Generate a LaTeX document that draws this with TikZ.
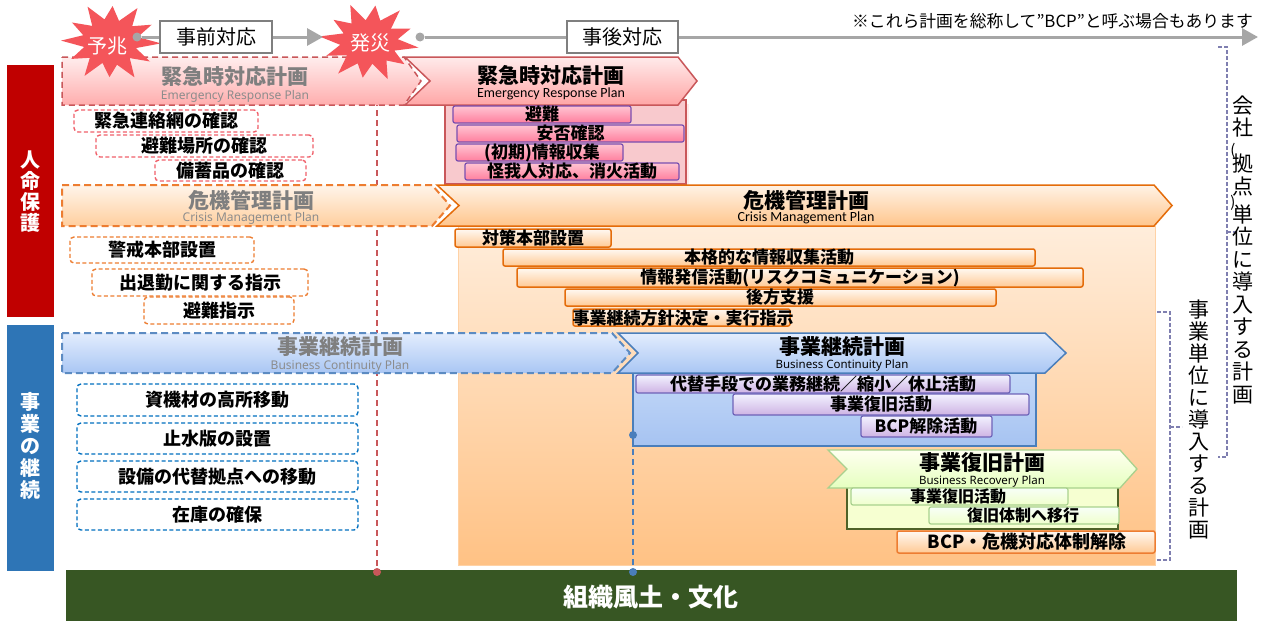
\documentclass[tikz,border=0pt]{standalone}
\usepackage{fontspec}
\setmainfont{Noto Sans CJK JP}
\newfontfamily\calfont{Carlito}
\newfontfamily\nsfont{Noto Sans}
\usetikzlibrary{arrows.meta}
\newcommand\fsz[1]{\fontsize{#1pt}{#1pt}\selectfont}
\newcommand\lparen[1]{\hspace*{-20pt}{\fsz{15}#1}}
\definecolor{tlgrey}{HTML}{A6A6A6}
\definecolor{boxgrey}{HTML}{7F7F7F}
\definecolor{burstred}{HTML}{F4555A}
\definecolor{lifered}{HTML}{C00000}
\definecolor{bizblue}{HTML}{2E75B6}
\definecolor{basegreen}{HTML}{375623}
\definecolor{erpline}{HTML}{C9575A}
\definecolor{ghostgrey}{HTML}{7F7F7F}
\definecolor{ghostsub}{HTML}{8C8C8C}
\definecolor{orline}{HTML}{E46C0A}
\definecolor{blline}{HTML}{4A7EBB}
\definecolor{lavline}{HTML}{6E63B8}
\definecolor{pinkbarline}{HTML}{7A4FB0}
\definecolor{grline}{HTML}{A9D18E}
\definecolor{grdark}{HTML}{4F6228}
\definecolor{brkt}{HTML}{7F7FB0}
\definecolor{rdash}{HTML}{F0606A}
\definecolor{odash}{HTML}{ED7D31}
\definecolor{bdash}{HTML}{0070C0}
\definecolor{bltop}{HTML}{E3EDFD}
\definecolor{blbot}{HTML}{A9C6F4}
\definecolor{pbtop}{HTML}{C3D8F8}
\definecolor{pbbot}{HTML}{A6C3F1}
\definecolor{pinktop}{HTML}{FFC4D2}
\definecolor{pinkbot}{HTML}{FF7F9E}
\definecolor{erppanel}{HTML}{F8C9CD}
\begin{document}
\begin{tikzpicture}[x=1pt,y=-1pt,
  tl/.style={draw=tlgrey, line width=3pt},
  tlarrow/.style={tl, -{Triangle[length=16pt,width=17pt]}},
  tlbox/.style={draw=boxgrey, line width=2.5pt, fill=white, minimum height=32pt, inner sep=0, font=\fsz{20}},
  tdot/.style={circle, fill=tlgrey, minimum size=9pt, inner sep=0},
  bursttxt/.style={text=white, font=\fsz{20}, inner sep=0},
  vlabel/.style={text=white, align=center, font=\fsz{20}\bfseries, inner sep=0},
  rlabel/.style={text=black, align=center, inner sep=0},
  ghostR/.style={draw=erpline, line width=1.5pt, dash pattern=on 6pt off 4pt, top color=red!7, bottom color=red!32},
  ghostO/.style={draw=odash, line width=2pt, dash pattern=on 7pt off 4pt, top color=orange!8, bottom color=orange!38},
  ghostB/.style={draw=blline!90, line width=2pt, dash pattern=on 7pt off 4pt, top color=bltop, bottom color=blbot},
  solidR/.style={draw=erpline, line width=1.5pt, top color=red!8, bottom color=red!35},
  solidO/.style={draw=orline, line width=1.5pt, top color=orange!10, bottom color=orange!45},
  solidB/.style={draw=blline, line width=1.5pt, top color=bltop, bottom color=blbot},
  solidG/.style={draw=grline, line width=1.3pt, top color=green!4!yellow!6, bottom color=green!40!yellow!25},
  gtitle/.style={font=\fsz{21}\bfseries, text=ghostgrey, inner sep=0},
  gsub/.style={font=\nsfont\fsz{12}, text=ghostsub, inner sep=0},
  stitle/.style={font=\fsz{21}\bfseries, inner sep=0},
  ssub/.style={font=\calfont\fsz{14}, inner sep=0},
  nsub/.style={font=\nsfont\fsz{11.5}, inner sep=0},
  pinkbar/.style={draw=pinkbarline, line width=1.2pt, rounded corners=2pt, top color=pinktop, bottom color=pinkbot},
  orbar/.style={draw=orline, line width=1.5pt, rounded corners=2pt, top color=orange!5, bottom color=orange!42},
  lavbar/.style={draw=lavline, line width=1.2pt, rounded corners=2pt, top color=blue!5, bottom color=blue!28!violet!30!white},
  grbar/.style={draw=grline, line width=1.2pt, rounded corners=2pt, top color=green!3!white, bottom color=green!30!yellow!20},
  bartxt/.style={font=\fsz{17}\bfseries, inner sep=0},
  dbox/.style={fill=white, line width=1.4pt, dash pattern=on 4pt off 2.5pt, rounded corners=4pt, inner sep=0, font=\fsz{18}\bfseries},
  rbox/.style={dbox, draw=rdash},
  obox/.style={dbox, draw=odash},
  bbox/.style={dbox, draw=bdash},
  rdot/.style={circle, fill=erpline, minimum size=8pt, inner sep=0},
  bdot/.style={circle, fill=blline, minimum size=8pt, inner sep=0},
  brk/.style={draw=brkt, line width=1.2pt, dash pattern=on 4pt off 2pt}
]
\useasboundingbox (0,0) rectangle (1262,621);
\fill[white] (0,0) rectangle (1262,621);

% left category bars
\fill[lifered] (7,65) rectangle (54,317);
\fill[bizblue] (7,325) rectangle (54,571);
\node[vlabel, font=\fontsize{20pt}{21pt}\selectfont\bfseries] (life) at (30,192) {人\\命\\保\\護};
\node[vlabel, font=\fontsize{20pt}{22pt}\selectfont\bfseries] (biz) at (30,446) {事\\業\\の\\継\\続};

% base bar
\fill[basegreen] (66,570) rectangle (1237,621);
\node[text=white, font=\fsz{25}\bfseries, inner sep=0] (culture) at (651,597) {組織風土・文化};

% big orange panel
\shade[top color=orange!14, bottom color=orange!48, draw=orange!35, line width=0.8pt] (458,226) rectangle (1155,565);

% red dashed vertical line
\coordinate (rtop) at (377,100);
\node[rdot] (rbot) at (377,572) {};
\draw[erpline, line width=1.5pt, dash pattern=on 6pt off 4pt] (rtop) -- (rbot);

% ghost chevrons
\draw[ghostR] (62,57) -- (404,57) -- (421,81) -- (404,105) -- (62,105) -- cycle;
\node[gtitle] (erpg) at (235,76) {緊急時対応計画};
\node[gsub] (erpgs) at (235,96) {Emergency Response Plan};
\draw[ghostO] (62,185) -- (432,185) -- (450,205.5) -- (432,226) -- (62,226) -- cycle;
\node[gtitle] (cmpg) at (251,200) {危機管理計画};
\node[gsub] (cmpgs) at (251,218) {Crisis Management Plan};
\draw[ghostB] (62,333) -- (612,333) -- (630,353) -- (612,373) -- (62,373) -- cycle;
\node[gtitle] (bcpg) at (340,347) {事業継続計画};
\node[gsub] (bcpgs) at (340,366) {Business Continuity Plan};

% left dashed boxes
\node[rbox, minimum width=184pt, minimum height=22pt] (r1) at (166,121) {緊急連絡網の確認};
\node[rbox, minimum width=217pt, minimum height=22pt] (r2) at (204.5,146) {避難場所の確認};
\node[rbox, minimum width=151pt, minimum height=21pt] (r3) at (230.5,170.5) {備蓄品の確認};
\node[obox, minimum width=184pt, minimum height=26pt] (q1) at (162,250) {警戒本部設置};
\node[obox, minimum width=216pt, minimum height=27pt] (q2) at (200,282.5) {出退勤に関する指示};
\node[obox, minimum width=150pt, minimum height=27pt] (q3) at (219,310.5) {避難指示};
\node[bbox, minimum width=281pt, minimum height=32pt] (u1) at (217.5,400) {資機材の高所移動};
\node[bbox, minimum width=281pt, minimum height=31pt] (u2) at (217.5,438.5) {止水版の設置};
\node[bbox, minimum width=281pt, minimum height=31pt] (u3) at (217.5,476.5) {設備の代替拠点への移動};
\node[bbox, minimum width=281pt, minimum height=31pt] (u4) at (217.5,514.5) {在庫の確保};

% ERP solid
\fill[red!8] (448,104) rectangle (689,187);
\draw[fill=erppanel, draw=erpline, line width=1.5pt] (445,100) rectangle (686,184);
\draw[solidR] (405,57) -- (678,57) -- (697,81) -- (678,105) -- (405,105) -- (430,81) -- cycle;
\node[stitle] (erps) at (551,75) {緊急時対応計画};
\node[ssub] (erpss) at (551,94) {Emergency Response Plan};
\draw[pinkbar] (453,106) rectangle (631,123);
\node[bartxt] (p1) at (542,114.5) {避難};
\draw[pinkbar] (457,125) rectangle (684,142);
\node[bartxt] (p2) at (570.5,133.5) {安否確認};
\draw[pinkbar] (456,144) rectangle (623,161);
\node[bartxt] (p3) at (542,152.5) {(初期)情報収集};
\draw[pinkbar] (465,163) rectangle (679,180);
\node[bartxt] (p4) at (572,171.5) {怪我人対応、消火活動};

% Crisis solid
\draw[solidO] (437,185) -- (1154,185) -- (1172,205.5) -- (1154,226) -- (437,226) -- (459,205.5) -- cycle;
\node[stitle] (cmps) at (806,200) {危機管理計画};
\node[ssub] (cmpss) at (806,218) {Crisis Management Plan};
\draw[orbar] (455,229) rectangle (611,247);
\node[bartxt] (o1) at (533,238) {対策本部設置};
\draw[orbar] (503,249) rectangle (1035,266);
\node[bartxt] (o2) at (769,257.5) {本格的な情報収集活動};
\draw[orbar] (517,268) rectangle (1083,287);
\node[bartxt] (o3) at (800,277.5) {情報発信活動(リスクコミュニケーション)};
\draw[orbar] (565,289) rectangle (996,306);
\node[bartxt] (o4) at (780,297.5) {後方支援};
\draw[orbar] (573,309) rectangle (790,326);
\node[bartxt] (o5) at (683,318) {事業継続方針決定・実行指示};

% BCP solid
\draw[draw=blline, line width=1.5pt, top color=pbtop, bottom color=pbbot] (633,373) rectangle (1036,446);
\draw[solidB] (618,333) -- (1045,333) -- (1066,353) -- (1045,373) -- (618,373) -- (638,353) -- cycle;
\node[stitle] (bcps) at (842,347) {事業継続計画};
\node[nsub] (bcpss) at (842,366) {Business Continuity Plan};
\draw[lavbar] (636,375) rectangle (1010,393);
\node[bartxt] (l1) at (823,384) {代替手段での業務継続／縮小／休止活動};
\draw[lavbar] (733,394) rectangle (1029,415);
\node[bartxt] (l2) at (881,404.5) {事業復旧活動};
\draw[lavbar] (861,416) rectangle (992,437);
\node[bartxt] (l3) at (926,426.5) {BCP解除活動};
\node[bdot] (bd1) at (633,435) {};
\node[bdot] (bd2) at (633,572) {};
\draw[blline, line width=1.5pt, dash pattern=on 6pt off 4pt] (bd1) -- (bd2);

% BRP
\draw[draw=grdark, line width=1.5pt, fill=green!20!yellow!18!white] (847,487) rectangle (1118,529);
\draw[solidG] (828,450) -- (1120,450) -- (1137,469) -- (1120,488) -- (828,488) -- (847,469) -- cycle;
\node[stitle] (brp) at (982,463) {事業復旧計画};
\node[nsub] (brps) at (982,482) {Business Recovery Plan};
\draw[grbar] (851,488) rectangle (1068,505);
\node[bartxt, font=\fsz{16}\bfseries] (g1) at (958,496.5) {事業復旧活動};
\draw[grbar] (929,507) rectangle (1119,524);
\node[bartxt, font=\fsz{16}\bfseries] (g2) at (1023,515.5) {復旧体制へ移行};
\draw[orbar, draw=odash] (897,531) rectangle (1155,553);
\node[bartxt, font=\fsz{18}\bfseries] (o6) at (1027,542) {BCP・危機対応体制解除};

% timeline bursts
\fill[burstred, shift={(111,42)}, xscale=50, yscale=40]
  (2:1.0) -- (17:0.52) -- (32:0.92) -- (47:0.55) -- (62:1.0) -- (78:0.58) -- (92:0.88) -- (108:0.55)
  -- (122:1.0) -- (137:0.58) -- (152:0.9) -- (167:0.55) -- (182:1.0) -- (197:0.58) -- (212:0.92)
  -- (227:0.55) -- (242:1.0) -- (257:0.58) -- (272:0.9) -- (287:0.55) -- (302:1.0) -- (317:0.58)
  -- (332:0.92) -- (347:0.55) -- cycle;
\fill[burstred, shift={(369,42)}, xscale=50, yscale=40]
  (8:1.0) -- (23:0.55) -- (38:0.9) -- (53:0.58) -- (68:1.0) -- (83:0.55) -- (98:0.9) -- (113:0.58)
  -- (128:1.0) -- (143:0.55) -- (158:0.92) -- (173:0.58) -- (188:1.0) -- (203:0.55) -- (218:0.9)
  -- (233:0.58) -- (248:1.0) -- (263:0.55) -- (278:0.92) -- (293:0.58) -- (308:1.0) -- (323:0.55)
  -- (338:0.9) -- (353:0.58) -- cycle;
\node[bursttxt] (yocho) at (107,46) {予兆};
\node[bursttxt] (hassai) at (370,43) {発災};

% timeline
\node[tdot] (d1) at (137,37) {};
\node[tlbox, minimum width=112pt] (pre) at (216,37) {事前対応};
\coordinate (a1) at (323,37);
\draw[tl] (d1) -- (pre);
\draw[tlarrow] (pre) -- (a1);
\node[tdot] (d2) at (420,37) {};
\node[tlbox, minimum width=111pt] (post) at (622.5,37) {事後対応};
\coordinate (a2) at (1258,37);
\draw[tl] (d2) -- (post);
\draw[tlarrow] (post) -- (a2);
\node[anchor=east, font=\fsz{16.8}, inner sep=0] (note) at (1253,21) {※これら計画を総称して”BCP”と呼ぶ場合もあります};

% brackets
\coordinate (ob1) at (1218,47);
\coordinate (ob2) at (1227,47);
\coordinate (ob3) at (1227,457);
\coordinate (ob4) at (1218,457);
\coordinate (om1) at (1227,232);
\coordinate (om2) at (1237,232);
\draw[brk] (ob1) -- (ob2) -- (ob3) -- (ob4);
\draw[brk] (om1) -- (om2);
\coordinate (ib1) at (1157,312);
\coordinate (ib2) at (1170,312);
\coordinate (ib3) at (1170,560);
\coordinate (ib4) at (1157,560);
\coordinate (im1) at (1170,427);
\coordinate (im2) at (1182,427);
\draw[brk] (ib1) -- (ib2) -- (ib3) -- (ib4);
\draw[brk] (im1) -- (im2);
\node[rlabel, font=\fontsize{21pt}{22.5pt}\selectfont] (outer) at (1243,250) {会\\社\\[-3pt]\lparen{(}\\[-6pt]拠\\点\\[-9pt]\lparen{)}\\[-8pt]単\\位\\に\\導\\入\\す\\る\\計\\画};
\node[rlabel, font=\fontsize{21pt}{22pt}\selectfont] (inner) at (1199,420) {事\\業\\単\\位\\に\\導\\入\\す\\る\\計\\画};
\end{tikzpicture}
\end{document}
